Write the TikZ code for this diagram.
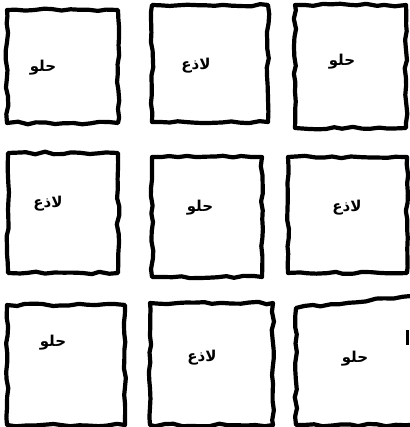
\documentclass[tikz,border=0pt]{standalone}
\usepackage{fontspec}
\usetikzlibrary{decorations.pathmorphing}
\TeXXeTstate=1
\newfontfamily\arabicfont[Script=Arabic]{DejaVu Sans}
\newcommand\sweetword{\beginR حلو\endR}
\newcommand\sourword{\beginR لاذع\endR}
\begin{document}
\pgfmathsetseed{7}
\begin{tikzpicture}[x=1pt,y=-1pt,
  tile/.style={line width=4.2pt, line join=round, line cap=round,
    decorate, decoration={random steps, segment length=9pt, amplitude=1.3pt}},
  word/.style={font=\arabicfont\bfseries\fontsize{15}{15}\selectfont, inner sep=0pt}]
\useasboundingbox (0,0) rectangle (409,427);
% row 1
\draw[tile] (7,10) -- (118,10) -- (118,123) -- (7,123) -- cycle;
\draw[tile] (152,5) -- (268,5) -- (268,122) -- (152,122) -- cycle;
\draw[tile] (295,5) -- (406,5) -- (406,128) -- (295,128) -- cycle;
% row 2
\draw[tile] (8,153) -- (118,153) -- (118,273) -- (8,273) -- cycle;
\draw[tile] (152,157) -- (262,157) -- (262,277) -- (152,277) -- cycle;
\draw[tile] (288,157) -- (407,157) -- (407,273) -- (288,273) -- cycle;
% row 3
\draw[tile] (7,305) -- (125,305) -- (125,425) -- (7,425) -- cycle;
\draw[tile] (150,303) -- (273,303) -- (273,425) -- (150,425) -- cycle;
\draw[tile] (411,296) -- (296,308) -- (296,425) -- (411,425);
\draw[line width=3pt] (407,330) -- (407,345);
% words
\node[word] (w1) at (43,68) {\sweetword};
\node[word] (w2) at (196,66) {\sourword};
\node[word] (w3) at (342,62) {\sweetword};
\node[word] (w4) at (48,204) {\sourword};
\node[word] (w5) at (200,208) {\sweetword};
\node[word] (w6) at (347,208) {\sourword};
\node[word] (w7) at (53,343) {\sweetword};
\node[word] (w8) at (202,358) {\sourword};
\node[word] (w9) at (355,359) {\sweetword};
\end{tikzpicture}
\end{document}
